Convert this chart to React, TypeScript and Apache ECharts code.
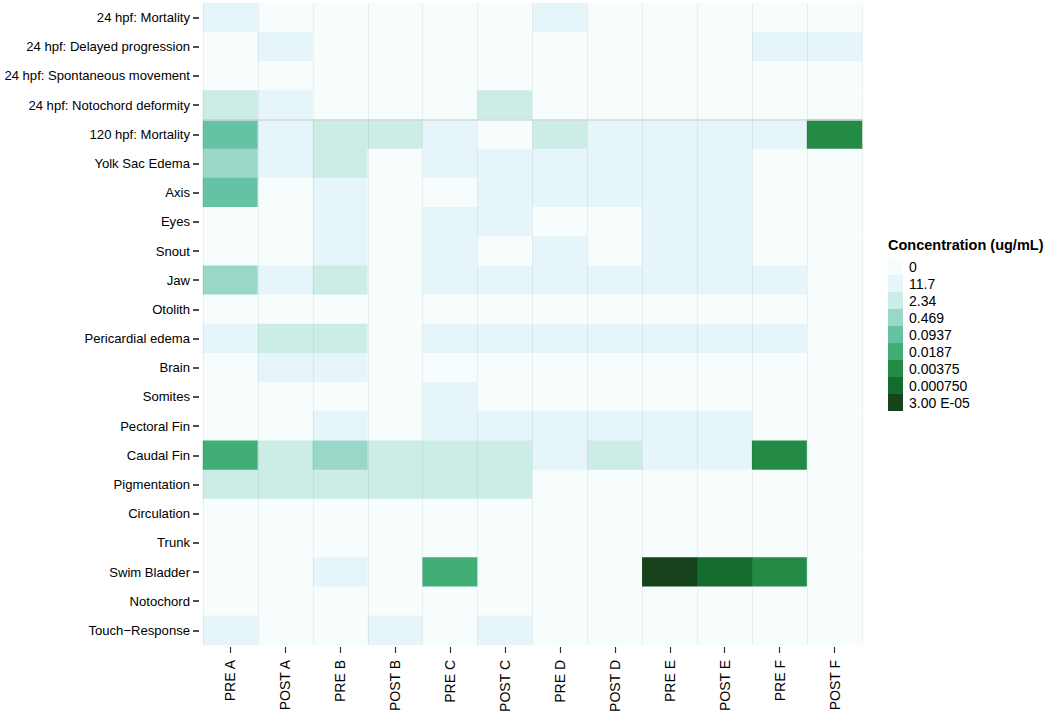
import React, { useEffect, useRef } from "react";
import * as echarts from "echarts";

const columns = ["PRE A", "POST A", "PRE B", "POST B", "PRE C", "POST C", "PRE D", "POST D", "PRE E", "POST E", "PRE F", "POST F"];

const endpoints = [
  "24 hpf: Mortality",
  "24 hpf: Delayed progression",
  "24 hpf: Spontaneous movement",
  "24 hpf: Notochord deformity",
  "120 hpf: Mortality",
  "Yolk Sac Edema",
  "Axis",
  "Eyes",
  "Snout",
  "Jaw",
  "Otolith",
  "Pericardial edema",
  "Brain",
  "Somites",
  "Pectoral Fin",
  "Caudal Fin",
  "Pigmentation",
  "Circulation",
  "Trunk",
  "Swim Bladder",
  "Notochord",
  "Touch\u2212Response",
];

// level index (0..8) per endpoint row, per column
const levels: number[][] = [
  [1, 0, 0, 0, 0, 0, 1, 0, 0, 0, 0, 0],
  [0, 1, 0, 0, 0, 0, 0, 0, 0, 0, 1, 1],
  [0, 0, 0, 0, 0, 0, 0, 0, 0, 0, 0, 0],
  [2, 1, 0, 0, 0, 2, 0, 0, 0, 0, 0, 0],
  [4, 1, 2, 2, 1, 0, 2, 1, 1, 1, 1, 6],
  [3, 1, 2, 0, 1, 1, 1, 1, 1, 1, 0, 0],
  [4, 0, 1, 0, 0, 1, 1, 1, 1, 1, 0, 0],
  [0, 0, 1, 0, 1, 1, 0, 0, 1, 1, 0, 0],
  [0, 0, 1, 0, 1, 0, 1, 0, 1, 1, 0, 0],
  [3, 1, 2, 0, 1, 1, 1, 1, 1, 1, 1, 0],
  [0, 0, 0, 0, 0, 0, 0, 0, 0, 0, 0, 0],
  [1, 2, 2, 0, 1, 1, 1, 1, 1, 1, 1, 0],
  [0, 1, 1, 0, 0, 0, 0, 0, 0, 0, 0, 0],
  [0, 0, 0, 0, 1, 0, 0, 0, 0, 0, 0, 0],
  [0, 0, 1, 0, 1, 1, 1, 1, 1, 1, 0, 0],
  [5, 2, 3, 2, 2, 2, 1, 2, 1, 1, 6, 0],
  [2, 2, 2, 2, 2, 2, 0, 0, 0, 0, 0, 0],
  [0, 0, 0, 0, 0, 0, 0, 0, 0, 0, 0, 0],
  [0, 0, 0, 0, 0, 0, 0, 0, 0, 0, 0, 0],
  [0, 0, 1, 0, 5, 0, 0, 0, 8, 7, 6, 0],
  [0, 0, 0, 0, 0, 0, 0, 0, 0, 0, 0, 0],
  [1, 0, 0, 1, 0, 1, 0, 0, 0, 0, 0, 0],
];

const levelLabels = ["0", "11.7", "2.34", "0.469", "0.0937", "0.0187", "0.00375", "0.000750", "3.00 E-05"];
const levelColors = ["#f7fcfd", "#e5f5f9", "#ccece6", "#99d8c9", "#66c2a4", "#41ae76", "#238b45", "#136b2d", "#16431c"];

const FONT = "'Liberation Sans', Arial, Helvetica, sans-serif";

export default function App() {
  const ref = useRef<HTMLDivElement>(null);

  useEffect(() => {
    if (!ref.current) return;
    const chart = echarts.init(ref.current, null, { renderer: "svg" });

    const data: number[][] = [];
    levels.forEach((row, yi) => {
      row.forEach((v, xi) => data.push([xi, yi, v]));
    });

    // separator line between 24 hpf block and 120 hpf block
    const ySplitColors = endpoints.concat([""]).map((_, i) => (i === 4 ? "#d3dada" : "rgba(0,0,0,0)"));

    chart.setOption({
      animation: false,
      backgroundColor: "#ffffff",
      textStyle: { fontFamily: FONT },
      title: {
        text: "Concentration (ug/mL)",
        left: 888,
        top: 237,
        padding: 0,
        textStyle: { fontFamily: FONT, fontSize: 14.5, fontWeight: "bold", color: "#000" },
      },
      grid: { left: 203, right: 188, top: 3, bottom: 73, containLabel: false, outerBoundsMode: "none" },
      xAxis: {
        type: "category",
        data: columns,
        offset: 2,
        z: 5,
        axisLine: { show: false },
        axisTick: { show: true, length: 6, alignWithLabel: true, lineStyle: { color: "#333", width: 1.2 } },
        axisLabel: { rotate: 90, margin: 13, fontSize: 14, color: "#000", fontFamily: FONT, interval: 0 },
        splitLine: { show: true, lineStyle: { color: "rgba(0,0,0,0.055)", width: 1 } },
      },
      yAxis: {
        type: "category",
        data: endpoints,
        inverse: true,
        offset: 4,
        z: 5,
        axisLine: { show: false },
        axisTick: { show: true, length: 6, alignWithLabel: true, lineStyle: { color: "#222", width: 1.6 } },
        axisLabel: { margin: 9, fontSize: 13.1, color: "#000", fontFamily: FONT, interval: 0 },
        splitLine: { show: true, lineStyle: { color: ySplitColors, width: 1.5 } },
      },
      visualMap: {
        type: "piecewise",
        dimension: 2,
        seriesIndex: 0,
        orient: "vertical",
        inverse: true,
        left: 888,
        top: 258,
        padding: 0,
        itemWidth: 15,
        itemHeight: 17,
        itemGap: 0,
        itemSymbol: "rect",
        textGap: 6,
        align: "left",
        selectedMode: false,
        showLabel: true,
        textStyle: { fontFamily: FONT, fontSize: 14, color: "#000" },
        pieces: levelLabels.map((label, i) => ({ value: i, label, color: levelColors[i] })),
      },
      series: [
        {
          type: "heatmap",
          data,
          itemStyle: { borderWidth: 0 },
          emphasis: { disabled: true },
          progressive: 0,
        },
      ],
    });

    return () => chart.dispose();
  }, []);

  return <div ref={ref} style={{ width: 1050, height: 718, position: "absolute", left: 0, top: 0 }} />;
}
